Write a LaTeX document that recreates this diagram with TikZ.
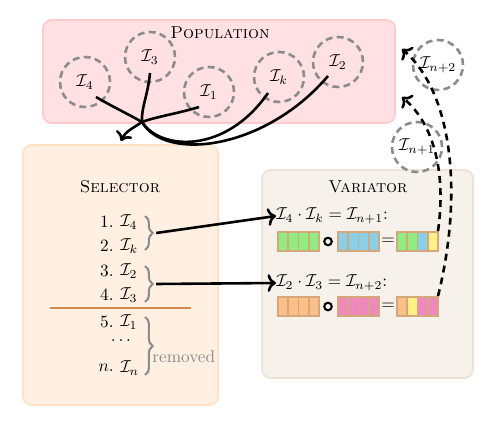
\documentclass[tikz,border=0pt]{standalone}
\usetikzlibrary{decorations.pathreplacing,calc,arrows.meta}
\definecolor{popfill}{HTML}{FFE1E4}
\definecolor{popdraw}{HTML}{FFCACE}
\definecolor{selfill}{HTML}{FFF0E2}
\definecolor{seldraw}{HTML}{FFE2C6}
\definecolor{varfill}{HTML}{F6F1EB}
\definecolor{vardraw}{HTML}{EFE2D4}
\definecolor{gGreen}{HTML}{90EE80}
\definecolor{gBlue}{HTML}{88D0EA}
\definecolor{gYellow}{HTML}{FFF285}
\definecolor{gOrange}{HTML}{FBBF88}
\definecolor{gPink}{HTML}{F088C0}
\definecolor{gBorder}{HTML}{D6A77A}
\definecolor{sepline}{HTML}{D08A52}
\definecolor{indgray}{HTML}{8C8C8C}
\newcommand\genomebar[6]{%
  \foreach \cc [count=\i from 0] in {#3,#4,#5,#6}{%
    \draw[gBorder, line width=0.9pt, fill=\cc] (#1+\i*10.25,#2) rectangle ++(10.25,19);}%
}
\begin{document}
\begin{tikzpicture}[x=0.58pt,y=-0.58pt,
  region/.style={rounded corners=5pt, line width=1pt},
  ind/.style={circle, draw=indgray, dash pattern=on 4pt off 2.5pt, line width=1.5pt, minimum size=29pt, inner sep=0pt},
  conn/.style={line width=1.5pt},
  dconn/.style={line width=1.5pt, dash pattern=on 4pt off 3pt, ->},
  brc/.style={decorate, decoration={brace, amplitude=4.5pt}, draw=indgray, line width=1.2pt},
  ttl/.style={font=\scshape},
  opc/.style={circle, draw, line width=1.2pt, minimum size=4.4pt, inner sep=0pt}
]
\useasboundingbox (0,0) rectangle (499,429);

% regions
\draw[region, fill=popfill, draw=popdraw] (43,20) rectangle (395,123);
\draw[region, fill=selfill, draw=seldraw] (23,145) rectangle (218,405);
\draw[region, fill=varfill, draw=vardraw] (262,170) rectangle (473,378);

\node[ttl] (poptitle) at (220,33) {Population};
\node[ttl] (seltitle) at (120,187) {Selector};
\node[ttl] (vartitle) at (368,187) {Variator};

% individuals
\node[ind] (I4) at (85,82) {$\mathcal{I}_4$};
\node[ind] (I3) at (150,57) {$\mathcal{I}_3$};
\node[ind] (I1) at (209,92) {$\mathcal{I}_1$};
\node[ind] (Ik) at (279,77) {$\mathcal{I}_k$};
\node[ind] (I2) at (338,62) {$\mathcal{I}_2$};

% selection curves
\coordinate (P) at (142,122);
\coordinate (selin) at (121,141);
\draw[conn] ([shift={(11,15)}]I4.center) .. controls (115,108) and (130,115) .. (P);
\draw[conn] ([shift={(0,16)}]I3.center) .. controls (148,95) and (141,108) .. (P);
\draw[conn] ([shift={(-10,15)}]I1.center) .. controls (180,113) and (155,117) .. (P);
\draw[conn] ([shift={(-11,16)}]Ik.center) .. controls (225,155) and (160,150) .. (P);
\draw[conn] ([shift={(-10,14)}]I2.center) .. controls (265,150) and (165,162) .. (P);
\draw[conn,->] (P) to[out=-145,in=65] (selin);

% selector list
\foreach \n/\lab/\yy in {a/1./222, b/2./246, c/3./271, d/4./295, e/5./322, f/$n$./368}{
  \node[anchor=east, inner sep=0pt] (num\n) at (114,\yy) {\lab};
}
\node[anchor=west, inner sep=0pt] (ita) at (120,222) {$\mathcal{I}_4$};
\node[anchor=west, inner sep=0pt] (itb) at (120,246) {$\mathcal{I}_k$};
\node[anchor=west, inner sep=0pt] (itc) at (120,271) {$\mathcal{I}_2$};
\node[anchor=west, inner sep=0pt] (itd) at (120,295) {$\mathcal{I}_3$};
\node[anchor=west, inner sep=0pt] (ite) at (120,322) {$\mathcal{I}_1$};
\node[inner sep=0pt] (dots) at (121,341) {$\dots$};
\node[anchor=west, inner sep=0pt] (itf) at (120,368) {$\mathcal{I}_n$};

\draw[sepline, line width=1.6pt] (50,308) -- (191,308);

\draw[brc] (145,216) -- coordinate[xshift=6.5pt] (b1) (145,250);
\draw[brc] (145,266) -- coordinate[xshift=6.5pt] (b2) (145,302);
\draw[brc] (145,317) -- (145,375);
\node[anchor=base west, text=indgray, inner sep=0pt] (removed) at (152,362) {removed};

% variator
\node[anchor=west, inner sep=0pt] (eq1) at (276,216) {$\mathcal{I}_4\cdot\mathcal{I}_k=\mathcal{I}_{n+1}$:};
\node[anchor=west, inner sep=0pt] (eq2) at (276,283) {$\mathcal{I}_2\cdot\mathcal{I}_3=\mathcal{I}_{n+2}$:};
\draw[conn,->] (b1) -- (eq1.west);
\draw[conn,->] (b2) -- (eq2.west);

\genomebar{278}{232}{gGreen}{gGreen}{gGreen}{gGreen}
\node[opc] (op1) at (328,241.5) {};
\genomebar{338}{232}{gBlue}{gBlue}{gBlue}{gBlue}
\node (eqs1) at (388,241.5) {$=$};
\genomebar{397}{232}{gGreen}{gGreen}{gBlue}{gYellow}

\genomebar{278}{297}{gOrange}{gOrange}{gOrange}{gOrange}
\node[opc] (op2) at (328,306.5) {};
\genomebar{338}{297}{gPink}{gPink}{gPink}{gPink}
\node (eqs2) at (388,306.5) {$=$};
\genomebar{397}{297}{gOrange}{gYellow}{gPink}{gPink}

\coordinate (r1) at (438,231);
\coordinate (r2) at (438,296);
\coordinate (ret1) at (402,97);
\coordinate (ret2) at (402,49);

\node[ind] (In1) at (417,147) {$\mathcal{I}_{n+1}$};
\node[ind] (In2) at (438,65) {$\mathcal{I}_{n+2}$};

\draw[dconn] (r1) .. controls (446,175) and (435,125) .. (ret1);
\draw[dconn] (r2) .. controls (462,200) and (455,95) .. (ret2);
\end{tikzpicture}
\end{document}
